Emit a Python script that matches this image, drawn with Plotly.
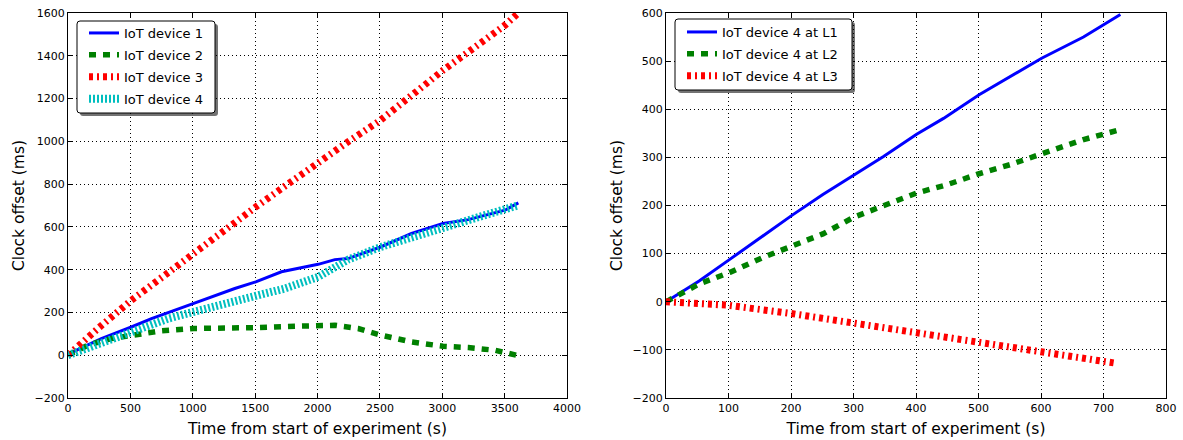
import plotly.graph_objects as go

# ---- Left panel data ----
t_dev1 = [0, 267, 508, 669, 1008, 1150, 1337, 1505, 1711, 2005, 2139, 2246, 2506, 2754, 3006, 3209, 3503, 3610]
v_dev1 = [5, 78, 132, 171, 242, 273, 312, 343, 390, 425, 447, 452, 506, 569, 616, 634, 678, 712]

t_dev2 = [0, 160, 348, 508, 749, 1008, 1257, 1505, 1872, 2139, 2326, 2506, 2754, 3006, 3209, 3423, 3597]
v_dev2 = [0, 47, 78, 94, 114, 125, 125, 129, 136, 140, 125, 94, 62, 42, 36, 23, 0]

t_dev3 = [0, 100, 250, 508, 750, 1008, 1250, 1505, 1750, 2005, 2250, 2506, 2750, 3006, 3250, 3503, 3600]
v_dev3 = [0, 55, 130, 257, 365, 475, 585, 693, 795, 904, 1000, 1099, 1215, 1332, 1435, 1543, 1595]

t_dev4 = [0, 267, 508, 802, 1008, 1284, 1505, 1738, 2005, 2246, 2506, 2754, 3006, 3343, 3610]
v_dev4 = [0, 55, 109, 171, 203, 242, 273, 312, 366, 447, 506, 553, 600, 655, 701]

# ---- Right panel data ----
t_L1 = [0, 53, 102, 150, 202, 251, 301, 348, 401, 444, 501, 551, 601, 668, 727]
v_L1 = [0, 43, 88, 133, 180, 223, 264, 302, 348, 381, 430, 468, 506, 550, 597]

t_L2 = [0, 53, 102, 155, 202, 251, 301, 348, 401, 449, 501, 551, 601, 668, 725]
v_L2 = [0, 37, 61, 92, 116, 141, 176, 199, 226, 243, 266, 285, 307, 337, 357]

t_L3 = [0, 97, 198, 300, 400, 497, 600, 721]
v_L3 = [0, -7, -24, -45, -63, -83, -104, -128]

names_left = ["IoT device 1", "IoT device 2", "IoT device 3", "IoT device 4"]
names_right = ["IoT device 4 at L1", "IoT device 4 at L2", "IoT device 4 at L3"]

W, H = 1183, 440
FONT = "DejaVu Sans"

blue = dict(color="#0000FF", width=3)
green = dict(color="#008000", width=5.5, dash="7px,7px")
red = dict(color="#FF0000", width=7, dash="4px,4px,2px,4px")
cyan = dict(color="#00BFBF", width=8, dash="2px,2px")

fig = go.Figure()
left_series = [(t_dev1, v_dev1, blue), (t_dev2, v_dev2, green), (t_dev3, v_dev3, red), (t_dev4, v_dev4, cyan)]
for i, (tx, vy, ln) in enumerate(left_series):
    fig.add_trace(go.Scatter(x=tx, y=vy, mode="lines", name=names_left[i], line=ln,
                             xaxis="x", yaxis="y", legend="legend", legendgroup=f"a{i}"))
right_series = [(t_L1, v_L1, blue), (t_L2, v_L2, green), (t_L3, v_L3, red)]
for i, (tx, vy, ln) in enumerate(right_series):
    fig.add_trace(go.Scatter(x=tx, y=vy, mode="lines", name=names_right[i], line=ln,
                             xaxis="x2", yaxis="y2", legend="legend2", legendgroup=f"b{i}"))

def px_x(p):
    return p / W

def px_y(p):
    return 1 - p / H

axis_common = dict(
    showline=True, linecolor="black", linewidth=1, mirror="allticks",
    ticks="inside", ticklen=5, tickcolor="black", tickwidth=1,
    showgrid=True, gridcolor="black", gridwidth=1, griddash="1px,3px",
    zeroline=False, tickfont=dict(family=FONT, size=11, color="black"),
    automargin=False,
)

def rounded_box(x0, y0, x1, y1, r=3):
    X0, X1 = px_x(x0), px_x(x1)
    Y0, Y1 = px_y(y0), px_y(y1)
    rx, ry = r / W, r / H
    return (f"M{X0+rx},{Y0} L{X1-rx},{Y0} Q{X1},{Y0} {X1},{Y0-ry} "
            f"L{X1},{Y1+ry} Q{X1},{Y1} {X1-rx},{Y1} L{X0+rx},{Y1} "
            f"Q{X0},{Y1} {X0},{Y1+ry} L{X0},{Y0-ry} Q{X0},{Y0} {X0+rx},{Y0} Z")

shapes = []
for (x0, y0, x1, y1) in [(77, 21, 215, 113), (675, 19, 852, 90)]:
    shapes.append(dict(type="path", xref="paper", yref="paper", path=rounded_box(x0 + 3, y0 + 3, x1 + 3, y1 + 3),
                       fillcolor="rgba(0,0,0,0.55)", line=dict(width=0), layer="above"))
    shapes.append(dict(type="path", xref="paper", yref="paper", path=rounded_box(x0, y0, x1, y1),
                       fillcolor="white", line=dict(color="black", width=1), layer="above"))

legend_common = dict(xanchor="left", yanchor="top", bgcolor="rgba(0,0,0,0)", borderwidth=0,
                     font=dict(family=FONT, size=13, color="black"), tracegroupgap=2)

fig.update_layout(
    width=W, height=H, autosize=False,
    margin=dict(l=0, r=0, t=0, b=0, pad=0, autoexpand=False),
    paper_bgcolor="white", plot_bgcolor="white",
    font=dict(family=FONT, color="black"),
    xaxis=dict(domain=[px_x(68), px_x(567)], range=[0, 4000], dtick=500, anchor="y",
               title=dict(text="Time from start of experiment (s)", font=dict(size=15.5), standoff=8), **axis_common),
    yaxis=dict(domain=[px_y(398), px_y(13)], range=[-200, 1600], dtick=200, anchor="x",
               title=dict(text="Clock offset (ms)", font=dict(size=15.5), standoff=6), **axis_common),
    xaxis2=dict(domain=[px_x(666), px_x(1166)], range=[0, 800], dtick=100, anchor="y2",
                title=dict(text="Time from start of experiment (s)", font=dict(size=15.5), standoff=8), **axis_common),
    yaxis2=dict(domain=[px_y(398), px_y(13)], range=[-200, 600], dtick=100, anchor="x2",
                title=dict(text="Clock offset (ms)", font=dict(size=15.5), standoff=6), **axis_common),
    legend=dict(x=px_x(84), y=px_y(18), **legend_common),
    legend2=dict(x=px_x(682), y=px_y(17), **legend_common),
    shapes=shapes,
    showlegend=True,
)

fig.write_html("out.html")
